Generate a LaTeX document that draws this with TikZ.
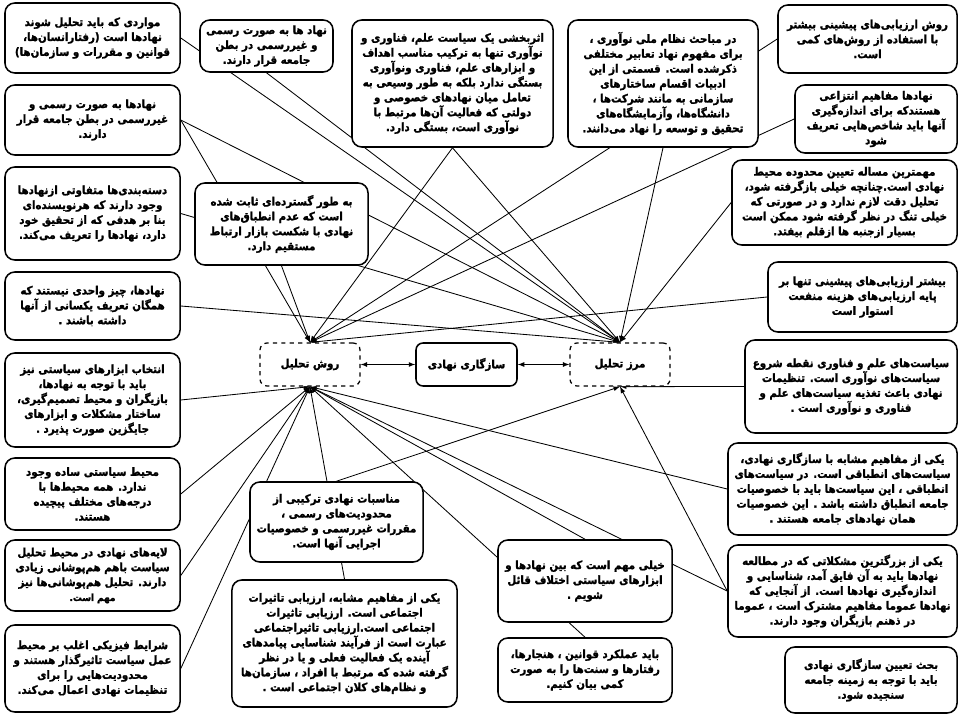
\documentclass[tikz,border=0pt]{standalone}
\usepackage{fontspec}
\newfontfamily\farsi[Script=Arabic,BoldFeatures={FakeBold=1.6}]{DejaVu Sans Condensed}
\TeXXeTstate=1
\newcommand{\rtl}[1]{\beginR #1\endR}
\usetikzlibrary{backgrounds}

\begin{document}
\begin{tikzpicture}[x=0.025cm,y=-0.025cm,
  box/.style={draw,line width=1.1pt,rounded corners=7pt,fill=white,align=center,inner sep=2pt,
    font=\farsi\bfseries\fontsize{8.1}{10.6}\selectfont},
  dbox/.style={box,dashed,line width=0.9pt,rounded corners=5pt},
  con/.style={-latex,semithick},
  link/.style={latex-latex,semithick}]
  \useasboundingbox (0,0) rectangle (960,715);

  % left column
  \node[box,minimum width=4.375cm,minimum height=1.75cm] (l1) at (92.5,38)
    {\rtl{مواردی که باید تحلیل شوند}\\\rtl{نهادها است (رفتارانسان‌ها،}\\\rtl{قوانین و مقررات و سازمان‌ها)}};
  \node[box,minimum width=4.375cm,minimum height=1.75cm] (l2) at (92.5,120)
    {\rtl{نهادها به صورت رسمی و}\\\rtl{غیررسمی در بطن جامعه قرار}\\\rtl{دارند.}};
  \node[box,minimum width=4.375cm,minimum height=2.325cm] (l3) at (92.5,213.5)
    {\rtl{دسته‌بندی‌ها متفاوتی ازنهادها}\\\rtl{وجود دارند که هرنویسنده‌ای}\\\rtl{بنا بر هدفی که از تحقیق خود}\\\rtl{دارد، نهادها را تعریف می‌کند.}};
  \node[box,minimum width=4.375cm,minimum height=1.7cm] (l4) at (92.5,306)
    {\rtl{نهادها، چیز واحدی نیستند که}\\\rtl{همگان تعریف یکسانی از آنها}\\\rtl{داشته باشند .}};
  \node[box,minimum width=4.375cm,minimum height=2.35cm] (l5) at (92.5,400)
    {\rtl{انتخاب ابزارهای سیاستی نیز}\\\rtl{باید با توجه به نهادها،}\\\rtl{بازیگران و محیط تصمیم‌گیری،}\\\rtl{ساختار مشکلات و ابزارهای}\\\rtl{جایگزین صورت پذیرد .}};
  \node[box,minimum width=4.375cm,minimum height=1.8cm] (l6) at (92.5,494)
    {\rtl{محیط سیاستی ساده وجود}\\\rtl{ندارد. همه محیط‌ها با}\\\rtl{درجه‌های مختلف پیچیده}\\\rtl{هستند.}};
  \node[box,minimum width=4.375cm,minimum height=1.775cm] (l7) at (92.5,575.5)
    {\rtl{لایه‌های نهادی در محیط تحلیل}\\\rtl{سیاست باهم هم‌پوشانی زیادی}\\\rtl{دارند. تحلیل هم‌پوشانی‌ها نیز}\\{\scriptsize\rtl{مهم است.}}};
  \node[box,minimum width=4.375cm,minimum height=2.175cm] (l8) at (92.5,668.5)
    {\rtl{شرایط فیزیکی اغلب بر محیط}\\\rtl{عمل سیاست تاثیرگذار هستند و}\\\rtl{محدودیت‌هایی را برای}\\\rtl{تنظیمات نهادی اعمال می‌کند.}};

  % top row
  \node[box,minimum width=3.325cm,minimum height=1.3cm] (t1) at (266.5,46)
    {\rtl{نهاد ها به صورت رسمی}\\\rtl{و غیررسمی در بطن}\\\rtl{جامعه قرار دارند.}};
  \node[box,minimum width=5.025cm,minimum height=3.175cm] (t2) at (452.5,83.5)
    {\rtl{اثربخشی یک سیاست علم، فناوری و}\\\rtl{نوآوری تنها به ترکیب مناسب اهداف}\\\rtl{و ابزارهای علم، فناوری ونوآوری}\\\rtl{بستگی ندارد بلکه به طور وسیعی به}\\\rtl{تعامل میان نهادهای خصوصی و}\\\rtl{دولتی که فعالیت آن‌ها مرتبط با}\\\rtl{نوآوری است، بستگی دارد.}};
  \node[box,minimum width=4.75cm,minimum height=3.175cm] (t3) at (663,83.5)
    {\rtl{در مباحث نظام ملی نوآوری ،}\\\rtl{برای مفهوم نهاد تعابیر مختلفی}\\\rtl{ذکرشده است. قسمتی از این}\\\rtl{ادبیات اقسام ساختارهای}\\\rtl{سازمانی به مانند شرکت‌ها ،}\\\rtl{دانشگاه‌ها، وآزمایشگاه‌های}\\\rtl{تحقیق و توسعه را نهاد می‌دانند.}};
  \node[box,minimum width=4.325cm,minimum height=2.05cm] (m1) at (281.5,224)
    {\rtl{به طور گسترده‌ای ثابت شده}\\\rtl{است که عدم انطباق‌های}\\\rtl{نهادی با شکست بازار ارتباط}\\\rtl{مستقیم دارد.}};

  % right column
  \node[box,minimum width=4.475cm,minimum height=1.7cm] (r1) at (867.5,39)
    {\rtl{روش ارزیابی‌های پیشینی بیشتر}\\\rtl{با استفاده از روش‌های کمی}\\\rtl{است.}};
  \node[box,minimum width=4.05cm,minimum height=1.7cm] (r2) at (876,119)
    {\rtl{نهادها مفاهیم انتزاعی}\\\rtl{هستندکه برای اندازه‌گیری}\\\rtl{آنها باید شاخص‌هایی تعریف}\\\rtl{شود}};
  \node[box,minimum width=5.625cm,minimum height=2.125cm] (r3) at (844.5,202.5)
    {\rtl{مهمترین مساله تعیین محدوده محیط}\\\rtl{نهادی است.چنانچه خیلی بازگرفته شود،}\\\rtl{تحلیل دقت لازم ندارد و در صورتی که}\\\rtl{خیلی تنگ در نظر گرفته شود ممکن است}\\\rtl{بسیار ازجنبه ها ازقلم بیفتد.}};
  \node[box,minimum width=4.725cm,minimum height=1.75cm] (r4) at (862.5,297)
    {\rtl{بیشتر ارزیابی‌های پیشینی تنها بر}\\\rtl{پایه ارزیابی‌های هزینه منفعت}\\\rtl{استوار است}};
  \node[box,minimum width=5.3cm,minimum height=2.325cm] (r5) at (851,386.5)
    {\rtl{سیاست‌های علم و فناوری نقطه شروع}\\\rtl{سیاست‌های نوآوری است. تنظیمات}\\\rtl{نهادی باعث تغذیه سیاست‌های علم و}\\\rtl{فناوری و نوآوری است .}};
  \node[box,minimum width=5.725cm,minimum height=2.3cm] (r6) at (842.5,489)
    {\rtl{یکی از مفاهیم مشابه با سازگاری نهادی،}\\\rtl{سیاست‌های انطباقی است. در سیاست‌های}\\\rtl{انطباقی ، این سیاست‌ها باید با خصوصیات}\\\rtl{جامعه انطباق داشته باشد . این خصوصیات}\\\rtl{همان نهادهای جامعه هستند .}};
  \node[box,minimum width=5.725cm,minimum height=2.3cm] (r7) at (842.5,591)
    {\rtl{یکی از بزرگترین مشکلاتی که در مطالعه}\\\rtl{نهادها باید به آن فایق آمد، شناسایی و}\\\rtl{اندازه‌گیری نهادها است. از آنجایی که}\\\rtl{نهادها عموما مفاهیم مشترک است ، عموما}\\\rtl{در ذهنم بازیگران وجود دارند.}};
  \node[box,minimum width=4.3cm,minimum height=1.65cm] (r8) at (871,680)
    {\rtl{بحث تعیین سازگاری نهادی}\\\rtl{باید با توجه به زمینه جامعه}\\\rtl{سنجیده شود.}};

  % bottom middle
  \node[box,minimum width=4.35cm,minimum height=2.05cm] (b1) at (585,581)
    {\rtl{خیلی مهم است که بین نهادها و}\\\rtl{ابزارهای سیاستی اختلاف قائل}\\\rtl{شویم .}};
  \node[box,minimum width=4.35cm,minimum height=1.6cm] (b2) at (585,670)
    {\rtl{باید عملکرد قوانین ، هنجارها،}\\\rtl{رفتارها و سنت‌ها را به صورت}\\\rtl{کمی بیان کنیم.}};
  \node[box,minimum width=4.325cm,minimum height=2cm] (b3) at (336.5,522)
    {\rtl{مناسبات نهادی ترکیبی از}\\\rtl{محدودیت‌های رسمی ،}\\\rtl{مقررات غیررسمی و خصوصیات}\\\rtl{اجرایی آنها است.}};
  \node[box,minimum width=5.625cm,minimum height=3.175cm] (b4) at (344.5,643.5)
    {\rtl{یکی از مفاهیم مشابه، ارزیابی تاثیرات}\\\rtl{اجتماعی است. ارزیابی تاثیرات}\\\rtl{اجتماعی است.ارزیابی تاثیراجتماعی}\\\rtl{عبارت است از فرآیند شناسایی پیامدهای}\\\rtl{آینده یک فعالیت فعلی و یا در نظر}\\\rtl{گرفته شده که مرتبط با افراد ، سازمان‌ها}\\\rtl{و نظام‌های کلان اجتماعی است .}};

  % centre
  \node[dbox,minimum width=2.5cm,minimum height=1.075cm] (rt) at (310,364.5) {\rtl{روش تحلیل}};
  \node[box,rounded corners=5pt,minimum width=2.525cm,minimum height=1.075cm] (sn) at (466.5,364.5) {\rtl{سازگاری نهادی}};
  \node[dbox,minimum width=2.5cm,minimum height=1.075cm] (mt) at (620,364.5) {\rtl{مرز تحلیل}};
  \draw[link] (rt) -- (sn);
  \draw[link] (sn) -- (mt);

  \begin{pgfonlayer}{background}
  % to the method box, top
  \draw[con] (l2.east) -- (rt.north);
  \draw[con] (m1.south) -- (rt.north);
  \draw[con] (t2.south) -- (rt.north);
  \draw[con] (r1.west) -- (rt.north);
  \draw[con] (r2.west) -- (rt.north);
  \draw[con] (r4.west) -- (rt.north);
  % to the boundary box, top
  \draw[con] (l1.east) -- (mt.north);
  \draw[con] (l2.east) -- (mt.north);
  \draw[con] (l3.east) -- (mt.north);
  \draw[con] (l4.east) -- (mt.north);
  \draw[con] (t1.south) -- (mt.north);
  \draw[con] (t2.south) -- (mt.north);
  \draw[con] (t3.south) -- (mt.north);
  \draw[con] (r3.west) -- (mt.north);
  % to the method box, bottom
  \draw[con] (l5.east) -- (rt.south);
  \draw[con] (l6.east) -- (rt.south);
  \draw[con] (l7.east) -- (rt.south);
  \draw[con] (l8.east) -- (rt.south);
  \draw[con] (b4.north) -- (rt.south);
  \draw[con] (b1.north) -- (rt.south);
  \draw[con] (b2.north) -- (rt.south);
  \draw[con] (r6.west) -- (rt.south);
  \draw[con] (r7.west) -- (rt.south);
  % to the boundary box, bottom
  \draw[con] (b3.north) -- (mt.south);
  \draw[con] (r7.west) -- (mt.south);
  \draw[con] (r5.west) -- (mt.south);
  \end{pgfonlayer}
\end{tikzpicture}
\end{document}
